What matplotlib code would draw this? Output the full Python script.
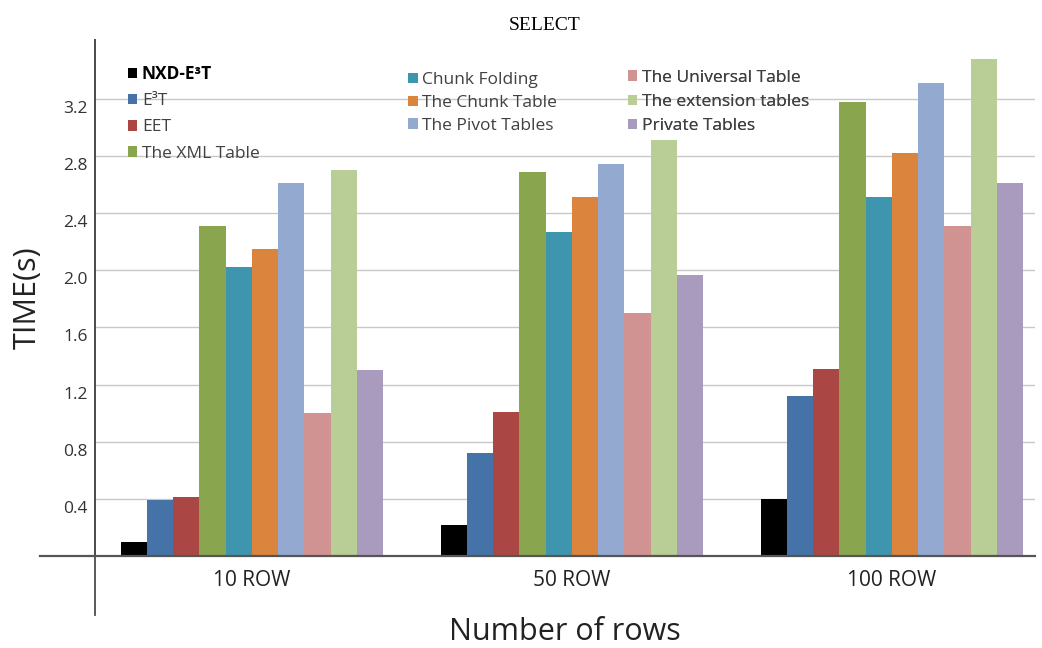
import numpy as np
import matplotlib
matplotlib.use("Agg")
import matplotlib.pyplot as plt
from matplotlib.transforms import ScaledTranslation

plt.rcParams['font.family'] = ['Open Sans', 'DejaVu Sans']

groups = ["10 ROW", "50 ROW", "100 ROW"]
series = ["NXD-E³T", "E³T", "EET", "The XML Table", "Chunk Folding",
          "The Chunk Table", "The Pivot Tables", "The Universal Table",
          "The extension tables", "Private Tables"]
colors = ["#000000", "#4572A7", "#AA4643", "#89A54E", "#3D96AE",
          "#DB843D", "#93A9CF", "#D19392", "#B9CD96", "#A99BBD"]

# values per series: [10 ROW, 50 ROW, 100 ROW]
nxd_e3t = [0.10, 0.22, 0.40]
e3t = [0.39, 0.72, 1.12]
eet = [0.41, 1.01, 1.31]
xml_table = [2.31, 2.69, 3.18]
chunk_folding = [2.02, 2.27, 2.51]
chunk_table = [2.15, 2.51, 2.82]
pivot_tables = [2.61, 2.74, 3.31]
universal_table = [1.00, 1.70, 2.31]
extension_tables = [2.70, 2.91, 3.48]
private_tables = [1.30, 1.97, 2.61]

values = [nxd_e3t, e3t, eet, xml_table, chunk_folding, chunk_table,
          pivot_tables, universal_table, extension_tables, private_tables]

yticks = [0.4, 0.8, 1.2, 1.6, 2.0, 2.4, 2.8, 3.2]

fig = plt.figure(figsize=(10.42, 6.48), dpi=100)
ax = fig.add_axes([0.0912, 0.142, 0.902, 0.796])

x = np.arange(len(groups))
w = 0.082
handles = []
for j, (name, vals) in enumerate(zip(series, values)):
    b = ax.bar(x + (j - 4.5) * w, vals, width=w, color=colors[j],
               label=name, zorder=3)
    handles.append(b)

ax.set_xlim(-0.49, 2.447)
ax.set_ylim(0, 3.61)
ax.set_yticks(yticks)
ax.set_yticklabels([f"{v:.1f}" for v in yticks], fontsize=12.5, color="#333333")
ax.set_xticks(x)
ax.set_xticklabels(groups, fontsize=15, color="#222222")
ax.tick_params(axis='both', length=0)
ax.tick_params(axis='x', pad=10)
ax.tick_params(axis='y', pad=5)
ax.grid(axis='y', color="#c8c8c8", linewidth=1, zorder=0)

# y labels sit a bit under their gridlines in the original
off = ScaledTranslation(0, -8 / 100, fig.dpi_scale_trans)
for lab in ax.get_yticklabels():
    lab.set_transform(lab.get_transform() + off)

for s in ["top", "right", "bottom"]:
    ax.spines[s].set_visible(False)
ax.spines["left"].set_color("#4d4d4d")
ax.spines["left"].set_linewidth(1.3)
ax.axvline(ax.get_xlim()[0], ymin=-0.114, ymax=1, color="#4d4d4d",
           linewidth=1.3, clip_on=False, zorder=4)
ax.axhline(0, xmin=-0.0585, xmax=1, color="#555555", linewidth=1.6,
           clip_on=False, zorder=4)

ax.set_ylabel("TIME(s)", fontsize=22, color="#222222", labelpad=15)
ax.set_xlabel("Number of rows", fontsize=22, color="#222222", labelpad=19)

fig.text(0.523, 1 - 25 / 648, "SELECT", fontfamily="Liberation Serif",
         fontsize=14, ha="center", va="center")

# legend in three loose columns
cols = [(0, 4, 0.035, 0.952, 0.59), (4, 7, 0.333, 0.938, 0.39),
        (7, 10, 0.567, 0.943, 0.48)]
for a, b_, lx, ly, sp in cols:
    leg = ax.legend(handles[a:b_], series[a:b_], loc="upper left",
                    bbox_to_anchor=(lx, ly), frameon=False, fontsize=12.5,
                    handlelength=0.55, handleheight=0.55, handletextpad=0.25,
                    labelspacing=sp, borderpad=0, borderaxespad=0)
    for t in leg.get_texts():
        t.set_color("#404040")
    if a == 0:
        leg.get_texts()[0].set_fontweight("bold")
        leg.get_texts()[0].set_color("#000000")
    ax.add_artist(leg)

fig.savefig("out.png", dpi=100)
